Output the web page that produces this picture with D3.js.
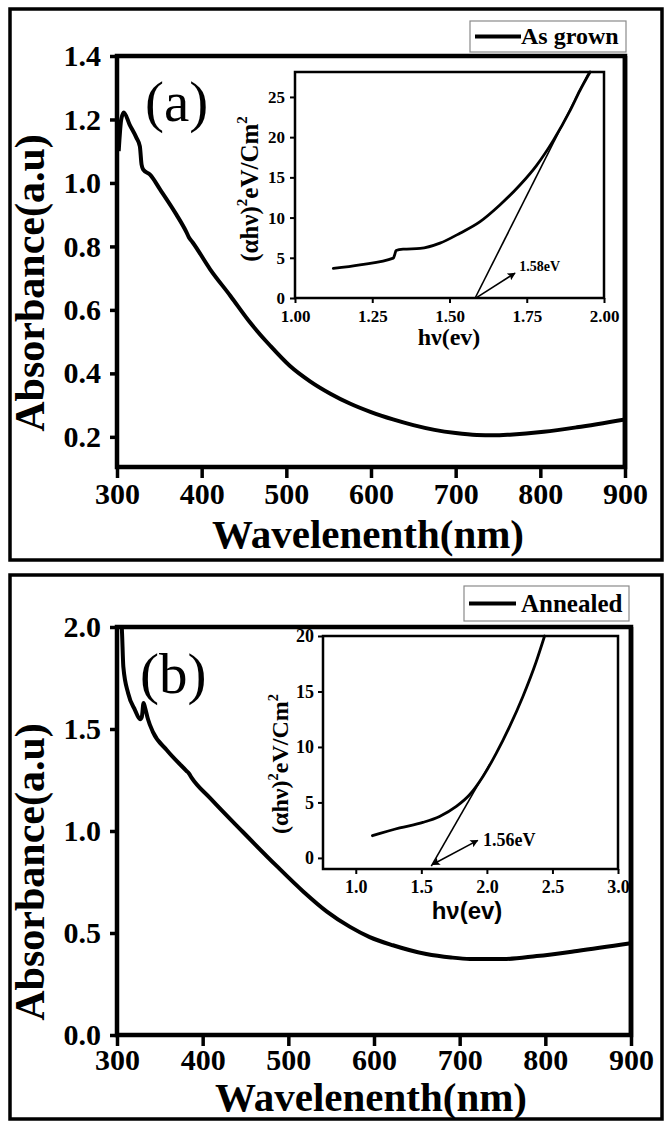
<!DOCTYPE html>
<html><head><meta charset="utf-8">
<script src="https://cdn.jsdelivr.net/npm/d3@7"></script>
<style>body{margin:0;background:#fff}svg{display:block}</style>
</head><body><svg id="c" width="665" height="1122"></svg>
<script>
// ---------- DATA ----------
const wavelengthA = [302, 305, 308, 315, 323, 327, 329, 331, 339, 351, 370, 382, 385, 389, 410, 434, 457, 481, 504, 528, 552, 575, 600, 626, 650, 675, 700, 725, 745, 764, 804, 843, 900];
const absorbanceA = [1.10, 1.20, 1.222, 1.183, 1.142, 1.115, 1.058, 1.042, 1.026, 0.979, 0.901, 0.845, 0.828, 0.814, 0.728, 0.644, 0.561, 0.487, 0.424, 0.375, 0.336, 0.305, 0.278, 0.255, 0.237, 0.222, 0.212, 0.206, 0.205, 0.207, 0.216, 0.230, 0.255];
const wavelengthB = [303, 305.5, 307.4, 313, 321, 327, 329, 331, 333, 336, 342, 358, 381, 384, 387, 409, 447, 486, 517, 545, 572, 595, 622, 661, 690, 712, 751, 790, 837, 900];
const absorbanceB = [2.05, 2.0, 1.805, 1.675, 1.593, 1.548, 1.56, 1.628, 1.60, 1.55, 1.485, 1.397, 1.295, 1.282, 1.262, 1.16, 0.995, 0.83, 0.705, 0.605, 0.53, 0.48, 0.44, 0.397, 0.38, 0.373, 0.372, 0.387, 0.412, 0.45];
const hvA = [1.124, 1.21, 1.318, 1.322, 1.327, 1.35, 1.405, 1.469, 1.534, 1.599, 1.663, 1.728, 1.782, 1.836, 1.89, 1.922, 1.955];
const tSqA = [3.68, 4.13, 4.96, 5.3, 5.9, 6.07, 6.16, 6.82, 8.06, 9.5, 11.57, 14.05, 16.5, 19.6, 23.3, 25.8, 28.1];
const hvB = [1.127, 1.335, 1.512, 1.639, 1.767, 1.868, 1.97, 2.072, 2.173, 2.274, 2.376, 2.44];
const tSqB = [2.0, 2.7, 3.2, 3.74, 4.64, 5.69, 7.34, 9.44, 11.83, 14.53, 17.68, 20];
const tangentAhv = [1.583, 1.949], tangentAy = [0, 27.9];
const tangentBhv = [1.576, 2.02], tangentBy = [-0.75, 8.4];
const arrowAhv = [1.59, 1.712], arrowAy = [0.1, 3.1];
const arrowBhv = [1.585, 1.93], arrowBy = [-0.6, 1.58];
const xTicksMain = [300, 400, 500, 600, 700, 800, 900];
const yTicksA = [0.2, 0.4, 0.6, 0.8, 1.0, 1.2, 1.4];
const yTicksB = [0.0, 0.5, 1.0, 1.5, 2.0];
const insetXTicksA = [1.00, 1.25, 1.50, 1.75, 2.00];
const insetYTicksA = [0, 5, 10, 15, 20, 25];
const insetXTicksB = [1.0, 1.5, 2.0, 2.5, 3.0];
const insetYTicksB = [0, 5, 10, 15, 20];
const legendLabels = ["As grown", "Annealed"];
const panelLabels = ["(a)", "(b)"];
const gapLabels = ["1.58eV", "1.56eV"];
const xTitle = "Wavelenenth(nm)";
const yTitle = "Absorbance(a.u)";
const insetXTitle = "hν(ev)";

// ---------- DRAW ----------
const svg = d3.select("#c");
const SERIF = "'Liberation Serif','Times New Roman',serif";
const SANS = "'Liberation Sans',Arial,sans-serif";
const defs = svg.append("defs");
defs.append("marker").attr("id", "ah").attr("viewBox", "0 0 10 10")
  .attr("refX", 9).attr("refY", 5).attr("markerUnits", "userSpaceOnUse")
  .attr("markerWidth", 10).attr("markerHeight", 8).attr("orient", "auto-start-reverse")
  .append("path").attr("d", "M0,0 L10,5 L0,10 L2,5 z").attr("fill", "#000");

const panels = [
  { frame: [10, 9, 652, 551],
    plot: { x0: 117, x1: 625, y0: 56, y1: 467 }, yDom: [0.105, 1.4],
    wl: wavelengthA, ab: absorbanceA, yTicks: yTicksA,
    legend: { x: 470, y: 21, w: 156, h: 31, lx0: 475, lx1: 521, ly: 36.5, tx: 521, ty: 44, fs: 24, label: legendLabels[0] },
    label: { x: 145, y: 121, text: panelLabels[0] },
    xTitleY: 548, yTitleY: 283, xPad: 5,
    inset: { x0: 295, x1: 604, y0: 72, y1: 298, xDom: [1, 2], yDom: [0, 28.1],
      hv: hvA, v: tSqA, xt: insetXTicksA, yt: insetYTicksA, xfmt: ".2f",
      tan: [tangentAhv, tangentAy], arr: [arrowAhv, arrowAy], bothHeads: false,
      gap: { hv: 1.726, y: 3.3, fs: 14, text: gapLabels[0] },
      yTitle: { x: 258, y: 189, fs: 25 }, xTitle: { x: 449, y: 345, fs: 24, font: SERIF },
      tfs: 17, tickPadX: 7, tickPadY: 5 } },
  { frame: [10, 575, 652, 544],
    plot: { x0: 117, x1: 631, y0: 627, y1: 1035 }, yDom: [0, 2],
    wl: wavelengthB, ab: absorbanceB, yTicks: yTicksB,
    legend: { x: 464, y: 586, w: 165, h: 35, lx0: 469, lx1: 516, ly: 603.5, tx: 521, ty: 612, fs: 25, label: legendLabels[1] },
    label: { x: 140, y: 693, text: panelLabels[1] },
    xTitleY: 1111, yTitleY: 872, xPad: 3,
    inset: { x0: 323, x1: 618, y0: 636, y1: 869, xDom: [0.75, 3], yDom: [-1, 20],
      hv: hvB, v: tSqB, xt: insetXTicksB, yt: insetYTicksB, xfmt: ".1f",
      tan: [tangentBhv, tangentBy], arr: [arrowBhv, arrowBy], bothHeads: true,
      gap: { hv: 1.97, y: 1.03, fs: 18, text: gapLabels[1] },
      yTitle: { x: 288, y: 764, fs: 24 }, xTitle: { x: 467, y: 919, fs: 24, font: SANS },
      tfs: 18, tickPadX: 6, tickPadY: 4 } }
];

function styleAxis(g, fs, tickW) {
  g.select(".domain").remove();
  g.selectAll(".tick line").attr("stroke", "#000").attr("stroke-width", tickW);
  g.selectAll(".tick text").attr("fill", "#000").style("font-family", SERIF)
    .style("font-weight", "bold").style("font-size", fs + "px");
}

function rotTitle(g, x, y, fs) {
  const t = g.append("text").attr("transform", `translate(${x},${y}) rotate(-90)`)
    .attr("text-anchor", "middle").style("font-family", SERIF).style("font-weight", "bold")
    .style("font-size", fs + "px").attr("fill", "#000");
  const sup = Math.round(fs * 0.42);
  t.append("tspan").text("(αhν)");
  t.append("tspan").attr("dy", -sup).style("font-size", (fs * 0.6) + "px").text("2");
  t.append("tspan").attr("dy", sup).text("eV/Cm");
  t.append("tspan").attr("dy", -sup).style("font-size", (fs * 0.6) + "px").text("2");
}

panels.forEach((p, i) => {
  const g = svg.append("g");
  g.append("rect").attr("x", p.frame[0]).attr("y", p.frame[1]).attr("width", p.frame[2]).attr("height", p.frame[3])
    .attr("fill", "#fff").attr("stroke", "#000").attr("stroke-width", 3.5);

  const x = d3.scaleLinear().domain([300, 900]).range([p.plot.x0, p.plot.x1]);
  const y = d3.scaleLinear().domain(p.yDom).range([p.plot.y1, p.plot.y0]);

  defs.append("clipPath").attr("id", "clip" + i).append("rect")
    .attr("x", p.plot.x0).attr("y", p.plot.y0).attr("width", p.plot.x1 - p.plot.x0).attr("height", p.plot.y1 - p.plot.y0);

  const gx = g.append("g").attr("transform", `translate(0,${p.plot.y1})`)
    .call(d3.axisBottom(x).tickValues(xTicksMain).tickSize(11).tickPadding(p.xPad).tickFormat(d3.format("d")));
  styleAxis(gx, 30, 3.5);
  const gy = g.append("g").attr("transform", `translate(${p.plot.x0},0)`)
    .call(d3.axisLeft(y).tickValues(p.yTicks).tickSize(7).tickPadding(9).tickFormat(d3.format(".1f")));
  styleAxis(gy, 30, 3.5);

  const line = d3.line().x((d, k) => x(p.wl[k])).y((d, k) => y(p.ab[k])).curve(d3.curveMonotoneX);
  g.append("path").datum(p.ab).attr("d", line).attr("fill", "none").attr("stroke", "#000")
    .attr("stroke-width", 4).attr("stroke-linejoin", "round").attr("clip-path", `url(#clip${i})`);

  g.append("rect").attr("x", p.plot.x0).attr("y", p.plot.y0).attr("width", p.plot.x1 - p.plot.x0)
    .attr("height", p.plot.y1 - p.plot.y0).attr("fill", "none").attr("stroke", "#000").attr("stroke-width", 4.5);

  g.append("text").attr("x", (p.plot.x0 + p.plot.x1) / 2 - 3).attr("y", p.xTitleY).attr("text-anchor", "middle")
    .style("font-family", SERIF).style("font-weight", "bold").style("font-size", "41px").text(xTitle);
  g.append("text").attr("transform", `translate(44,${p.yTitleY}) rotate(-90)`).attr("text-anchor", "middle")
    .style("font-family", SERIF).style("font-weight", "bold").style("font-size", "42px").text(yTitle);

  g.append("text").attr("x", p.label.x).attr("y", p.label.y).style("font-family", SERIF)
    .style("font-size", "57px").text(p.label.text);

  const L = p.legend;
  g.append("rect").attr("x", L.x).attr("y", L.y).attr("width", L.w).attr("height", L.h)
    .attr("fill", "#fff").attr("stroke", "#8a8a8a").attr("stroke-width", 1.2);
  g.append("line").attr("x1", L.lx0).attr("x2", L.lx1).attr("y1", L.ly).attr("y2", L.ly)
    .attr("stroke", "#000").attr("stroke-width", 4);
  g.append("text").attr("x", L.tx).attr("y", L.ty).style("font-family", SERIF).style("font-weight", "bold")
    .style("font-size", L.fs + "px").text(L.label);

  const s = p.inset;
  const ix = d3.scaleLinear().domain(s.xDom).range([s.x0, s.x1]);
  const iy = d3.scaleLinear().domain(s.yDom).range([s.y1, s.y0]);
  g.append("rect").attr("x", s.x0).attr("y", s.y0).attr("width", s.x1 - s.x0).attr("height", s.y1 - s.y0)
    .attr("fill", "#fff");
  const igx = g.append("g").attr("transform", `translate(0,${s.y1})`)
    .call(d3.axisBottom(ix).tickValues(s.xt).tickSize(5).tickPadding(s.tickPadX).tickFormat(d3.format(s.xfmt)));
  styleAxis(igx, s.tfs, 2);
  const igy = g.append("g").attr("transform", `translate(${s.x0},0)`)
    .call(d3.axisLeft(iy).tickValues(s.yt).tickSize(5).tickPadding(s.tickPadY).tickFormat(d3.format("d")));
  styleAxis(igy, s.tfs, 2);

  const iline = d3.line().x((d, k) => ix(s.hv[k])).y((d, k) => iy(s.v[k])).curve(d3.curveMonotoneX);
  g.append("path").datum(s.v).attr("d", iline).attr("fill", "none").attr("stroke", "#000")
    .attr("stroke-width", 2.8).attr("stroke-linecap", "round");
  g.append("line").attr("x1", ix(s.tan[0][0])).attr("y1", iy(s.tan[1][0]))
    .attr("x2", ix(s.tan[0][1])).attr("y2", iy(s.tan[1][1])).attr("stroke", "#000").attr("stroke-width", 1.6);
  const ar = g.append("line").attr("x1", ix(s.arr[0][0])).attr("y1", iy(s.arr[1][0]))
    .attr("x2", ix(s.arr[0][1])).attr("y2", iy(s.arr[1][1])).attr("stroke", "#000").attr("stroke-width", 1.6)
    .attr("marker-end", "url(#ah)");
  if (s.bothHeads) ar.attr("marker-start", "url(#ah)");
  g.append("text").attr("x", ix(s.gap.hv)).attr("y", iy(s.gap.y)).style("font-family", SERIF)
    .style("font-weight", "bold").style("font-size", s.gap.fs + "px").text(s.gap.text);

  g.append("rect").attr("x", s.x0).attr("y", s.y0).attr("width", s.x1 - s.x0).attr("height", s.y1 - s.y0)
    .attr("fill", "none").attr("stroke", "#000").attr("stroke-width", 2.5);

  rotTitle(g, s.yTitle.x, s.yTitle.y, s.yTitle.fs);
  g.append("text").attr("x", s.xTitle.x).attr("y", s.xTitle.y).attr("text-anchor", "middle")
    .style("font-family", s.xTitle.font).style("font-weight", "bold").style("font-size", s.xTitle.fs + "px")
    .text(insetXTitle);

  g.append("line").attr("x1", p.plot.x1).attr("x2", p.plot.x1).attr("y1", p.plot.y0).attr("y2", p.plot.y1)
    .attr("stroke", "#000").attr("stroke-width", 4.5);
});
</script></body></html>
